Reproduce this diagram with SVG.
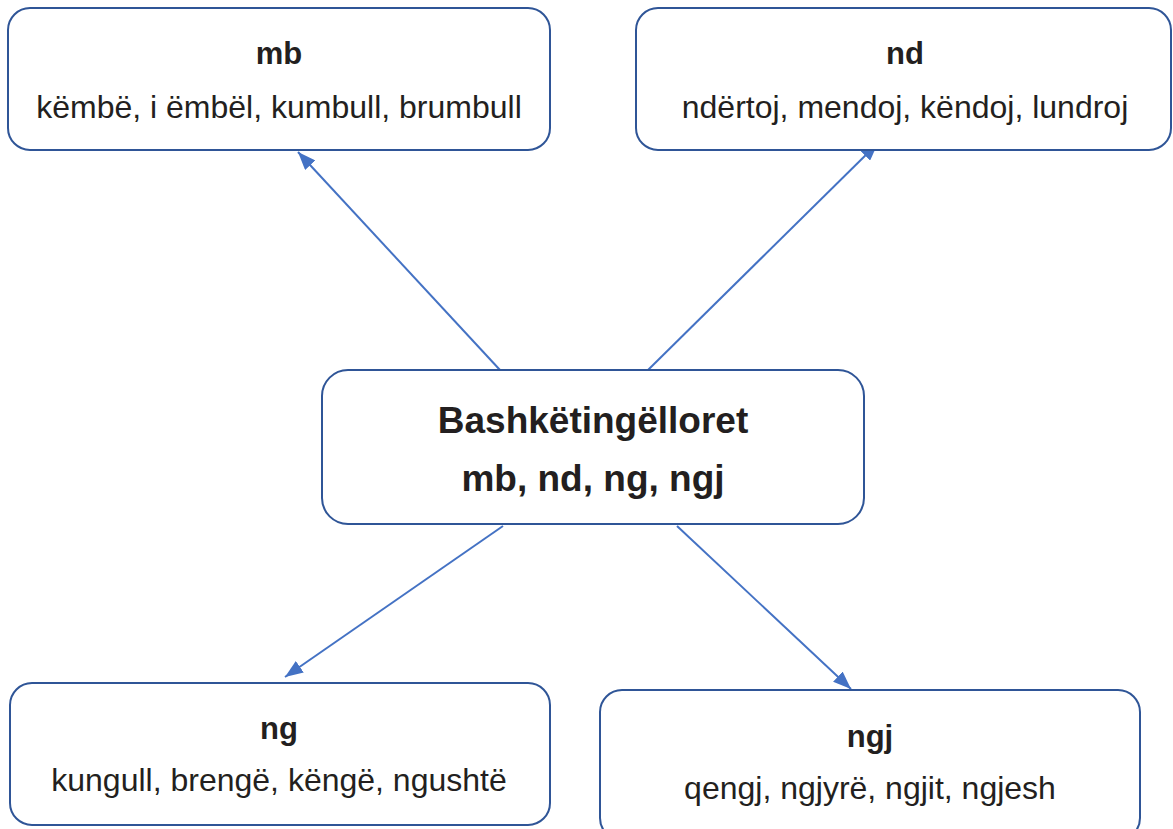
<svg xmlns="http://www.w3.org/2000/svg" width="1173" height="829" viewBox="0 0 1173 829">
<defs>
<style>
.box{fill:#fff;stroke:#2F5597;stroke-width:2}
.t{font-family:"Liberation Sans",Arial,sans-serif;fill:#231f20;text-anchor:middle}
.h{font-weight:bold;font-size:31px}
.s{font-size:32px}
.c{font-weight:bold;font-size:37px}
.conn{stroke:#4472C4;stroke-width:2;fill:none}
</style>
<marker id="a" viewBox="0 0 18 14" refX="18" refY="7" markerWidth="18" markerHeight="14" markerUnits="userSpaceOnUse" orient="auto">
<path d="M0,0 L18,7 L0,14 z" fill="#4472C4"/>
</marker>
</defs>
<rect width="1173" height="829" fill="#fff"/>
<g id="connectors">
<line class="conn" x1="500" y1="370" x2="298" y2="152" marker-end="url(#a)"/>
<line class="conn" x1="648" y1="370" x2="878" y2="143" marker-end="url(#a)"/>
<line class="conn" x1="503" y1="526" x2="285" y2="677" marker-end="url(#a)"/>
<line class="conn" x1="677" y1="526" x2="851" y2="689" marker-end="url(#a)"/>
</g>
<g id="node-mb">
<rect class="box" x="8" y="8" width="542" height="142" rx="22"/>
<text class="t h" x="279" y="64">mb</text>
<text class="t s" x="279" y="118">këmbë, i ëmbël, kumbull, brumbull</text>
</g>
<g id="node-nd">
<rect class="box" x="636" y="8" width="535" height="142" rx="22"/>
<text class="t h" x="905" y="64">nd</text>
<text class="t s" x="905" y="118">ndërtoj, mendoj, këndoj, lundroj</text>
</g>
<g id="node-center">
<rect class="box" x="322" y="370" width="542" height="154" rx="26"/>
<text class="t c" x="593" y="433">Bashkëtingëlloret</text>
<text class="t c" x="593" y="491">mb, nd, ng, ngj</text>
</g>
<g id="node-ng">
<rect class="box" x="10" y="683" width="540" height="142" rx="22"/>
<text class="t h" x="279" y="739">ng</text>
<text class="t s" x="279" y="791">kungull, brengë, këngë, ngushtë</text>
</g>
<g id="node-ngj">
<rect class="box" x="600" y="690" width="540" height="150" rx="22"/>
<text class="t h" x="870" y="747">ngj</text>
<text class="t s" x="870" y="799">qengj, ngjyrë, ngjit, ngjesh</text>
</g>
</svg>
